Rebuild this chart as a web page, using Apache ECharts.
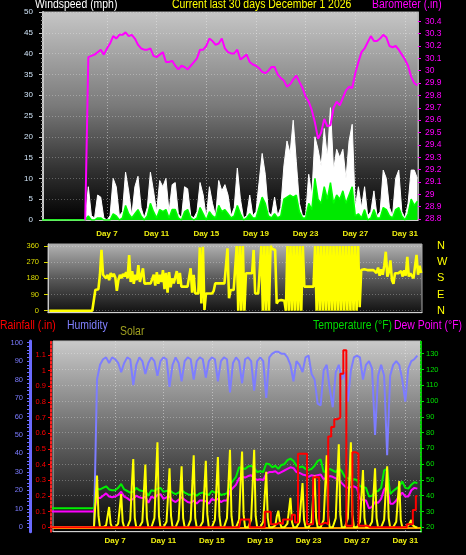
<!DOCTYPE html>
<html>
<head>
<meta charset="utf-8">
<script src="https://cdn.jsdelivr.net/npm/echarts@6/dist/echarts.min.js"></script>
<style>
html,body{margin:0;padding:0;background:#000;overflow:hidden}
#chart{width:466px;height:555px}
</style>
</head>
<body>
<div id="chart"></div>
<script>
// ---------- time axis ----------
var dayTicks = [7, 11, 15, 19, 23, 27, 31];
// quarter-day samples start / step (days)
var Q_START = 1.75, Q_STEP = 0.25;
// eighth-day samples start / step (days)
var E_START = 1.75, E_STEP = 0.125;

// ---------- panel 1: wind (mph), barometer (in) -- quarter-day samples ----------
var windGust = [0,0,0,0,0,0,0,0,0,0,0,0,0,0,0,
  8,1,
  0.5,6,5.5,0.5,
  0,1,10,8,
  1,2,11.5,7,
  1,8,10.5,3,
  0.5,3,11.5,7,
  2,9.5,8,10,
  2,8.5,9,1.5,
  0.5,8,7.5,1,
  0.5,2,9,6,
  0.5,8,4,1,
  9.5,7,8.5,6,
  1,3,12.5,5,
  0.5,1,6,1,
  2,9,16,11,
  2,1,5.5,1,
  3,13,19,16,
  24,14,4,1,
  1,11,6,20,
  17,13,22,15,
  27,12,17,15,
  17,10,19,23,
  3,8,3,8,
  1,2,7,1,
  2,12,10,3,
  1,10,12,2,
  0.5,4,12,12,
  10];
var windAvg = [0,0,0,0,0,0,0,0,0,0,0,0,0,0,0,
  1,0,
  0,0.5,0.5,0,
  0,0,1.5,1,
  0,0.5,3.5,1.5,
  0.5,1.5,2.5,1,
  0,1,4,2,
  0.5,2.5,2,2.5,
  0.5,2.5,2.5,0.5,
  0,2,2.5,0.5,
  0,0.5,3,1.5,
  0,2,1,0.5,
  3.5,2,2.5,1.5,
  0.5,1,3.5,1.5,
  0,0.5,1.5,0.5,
  0.5,3,5.5,4,
  1,0.5,1.5,0.5,
  1,5,5.5,6,
  5.5,6,2,0.5,
  0.5,4,2.5,10,
  5,4,8,5,
  9,4,6,5,
  7,4,6,8,
  1,1.5,0.5,2.5,
  0,0.5,2.5,0.5,
  0.5,3,2.5,1,
  0.5,2.5,3,1,
  0,1.5,5,3.5,
  4.5];
var barometer = [null,null,null,null,null,null,null,null,null,null,null,null,null,null,28.79,
  30.11,30.12,
  30.13,30.15,30.17,30.13,
  30.18,30.22,30.28,30.26,
  30.29,30.29,30.31,30.28,
  30.29,30.26,30.21,30.18,
  30.17,30.17,30.18,30.12,
  30.11,30.13,30.15,30.07,
  30.07,30.08,30.04,30.01,
  30.04,30.03,30.01,30.04,
  30.07,30.10,30.17,30.17,
  30.20,30.26,30.24,30.21,
  30.22,30.26,30.18,30.15,
  30.14,30.14,30.17,30.09,
  30.11,30.13,30.07,30.05,
  30.04,30.02,29.99,29.98,
  30.00,30.03,30.03,29.97,
  29.94,29.92,29.87,29.89,
  29.93,29.96,29.91,29.86,
  29.79,29.75,29.68,29.58,
  29.45,29.50,29.61,29.55,
  29.56,29.70,29.75,29.72,
  29.78,29.84,29.87,29.86,
  29.98,30.07,30.15,30.18,
  30.23,30.28,30.24,30.24,
  30.26,30.29,30.27,30.20,
  30.19,30.20,30.17,30.13,
  30.09,30.04,29.95,29.90,
  29.88];

// ---------- panel 2: wind direction (deg) -- eighth-day samples ----------
var windDir = [0,0,0,0,0,0,0,0,0,0,0,0,0,0,0,0,0,0,0,0,0,0,0,0,0,0,0,0,0,0,
  115,115,120,200,
  338,200,210,180,200,170,210,190,
  205,185,110,170,200,180,205,190,
  215,180,310,160,220,150,200,170,
  254,160,170,236,150,152,152,152,
  152,152,200,140,215,150,200,160,
  226,120,210,100,215,130,180,152,
  152,220,150,210,134,134,134,134,
  134,140,236,100,200,96,96,96,
  352,40,356,4,96,96,96,96,
  96,110,152,152,152,152,152,152,
  152,152,347,69,115,115,115,115,
  360,0,360,0,360,0,208,208,
  208,208,208,338,96,96,96,96,
  360,0,360,0,360,0,360,345,
  338,338,40,55,45,60,50,55,
  0,360,0,360,0,360,0,360,
  0,360,0,360,134,134,134,134,
  134,134,134,360,0,360,0,360,
  0,360,0,360,0,360,0,360,
  0,360,0,360,0,360,0,360,
  0,360,0,360,0,360,0,360,
  20,226,226,230,226,226,222,226,
  230,226,222,210,240,195,230,200,
  250,328,190,215,280,170,150,208,
  208,208,205,220,190,225,195,300,
  190,208,208,180,190,310,200,250,
  210];

// ---------- panel 3 (quarter-day samples) ----------
var humidity = [0,0,0,0,0,0,0,0,0,0,0,0,0,0,0,
  80,88,
  91,92,89,92,
  91,89,84,89,
  92,91,77,88,
  92,90,83,89,
  92,90,82,90,
  92,91,76,88,
  92,89,79,90,
  92,91,80,90,
  92,91,81,90,
  92,91,79,90,
  92,91,73,89,
  92,90,78,91,
  92,90,74,90,
  92,90,70,92,
  94,95,95,94,
  94,92,88,79,
  90,88,84,92,
  93,83,80,67,
  66,85,88,75,
  65,84,88,80,
  84,68,85,92,
  93,92,80,88,
  90,86,50,82,
  88,82,39,82,
  88,90,88,80,
  68,86,90,91,
  93];
var temperature = [32,32,32,32,32,32,32,32,32,32,32,32,32,32,32,
  44.5,44,
  45,46,44,43.5,
  43.5,45,47.5,44,
  43,42,42.5,45,
  43.5,43,43,40,
  43.5,43,44.5,45,
  42.5,43,43.5,42,
  41,42,43.5,42,
  41,40.5,41.5,40,
  41.5,42,41,40.5,
  43,42,42.5,40.5,
  41,41.5,47,49.5,
  52,58,57.5,57,
  58.5,59,57.5,55,
  55.5,55,60.5,60,
  58,59,57,59.5,
  60,62.5,63.5,62,
  59,58,58.5,57,
  56.5,57,59,62,
  63,55,56,57,
  56,55,57.5,55.5,
  52,51,51,50.5,
  50,46,45.5,45,
  39.5,40,42.5,43,
  45,56,57,41,
  43,44.5,46,49,
  45,44.5,47,48.5,
  48];
var dewPoint = [30,30,30,30,30,30,30,30,30,30,30,30,30,30,30,
  39,38.5,
  40,41.5,39.5,39,
  39.5,40.5,42.5,39.5,
  38.5,37,38,40,
  39,38.5,39.5,35.5,
  39.5,38.5,40.5,41,
  38,39,39.5,37,
  36,37.5,39,37.5,
  36,35.5,37,35,
  37,37,36.5,35,
  38,37,38,36,
  37,37,43,45,
  47,51,52,51.5,
  52.5,53,51,50,
  50.5,50,54,55,
  55,55.5,54,55,
  56,57,58,57.5,
  55,54.5,53.5,53,
  52,53,52.5,53,
  53.5,50.5,51.5,52.5,
  52,51,50,48,
  46,45,45.5,46,
  45,38,37.5,37,
  32,33,36,35.5,
  38,44,46,35,
  35,37,40,42,
  39.5,39.5,43.5,45,
  44.5];
var rainfall = [0,0,0,0,0,0,0,0,0,0,0,0,0,0,0,
  0,0,
  0,0,0,0, 0,0,0,0, 0,0,0,0, 0,0,0,0, 0,0,0,0, 0,0,0,0,
  0,0,0,0, 0,0,0,0, 0,0,0,0, 0,0,0,0, 0,0,0,0,
  0,0,0.05,0.05,
  0.05,0,0,0,
  0,0,0.1,0.1,
  0.02,0.02,0.03,0.02,
  0.05,0.05,0.05,0.08,
  0.03,0.47,0.47,0.47,
  0.02,0.02,0.32,0.32,
  0.02,0.03,0.02,0.58,
  0.64,0.69,0.7,0.98,
  1.13,0.01,0.01,0.48,
  0.47,0.01,0.01,0.01,
  0,0,0,0, 0,0,0,0, 0,0,0,0,
  0,0.02,0.02,0.11,
  0.2];
// solar (relative, eighth-day samples)
var solar = [0,0,0,0,0,0,0,0,0,0,0,0,0,0,0,0,0,0,0,0,0,0,0,0,0,0,0,0,0,0,
  28,6,0,0,
  0,0,1,6,11,2,0,0,
  0,0,2,10,18,3,0,0,
  0,0,4,22,37,5,0,0,
  0,0,3,19,34,5,0,0,
  0,0,5,26,46,6,0,0,
  0,0,3,17,32,6,0,0,
  0,0,4,18,33,5,0,0,
  0,0,4,22,39,5,0,0,
  0,0,3,20,36,7,0,0,
  0,0,4,21,38,6,0,0,
  0,0,5,24,42,6,0,0,
  0,0,4,24,41,7,0,0,
  0,0,4,23,42,6,0,0,
  0,0,3,17,30,5,0,0,
  0,0,1,6,9,3,0,0,
  0,0,2,9,16,3,0,0,
  0,0,3,14,24,4,0,0,
  0,0,3,16,28,5,0,0,
  0,0,4,22,39,6,0,0,
  0,0,5,26,45,7,0,0,
  0,0,5,26,46,7,0,0,
  0,0,3,17,31,5,0,0,
  0,0,3,18,32,5,0,0,
  0,0,4,19,33,5,0,0,
  0,0,3,14,25,4,0,0,
  0,0,1,2,4,1,0,0,
  0];

// ---------- tick labels ----------
var baroTicks = [28.8,28.9,29.0,29.1,29.2,29.3,29.4,29.5,29.6,29.7,29.8,29.9,30.0,30.1,30.2,30.3,30.4];
var dirTicks = [0, 90, 180, 270, 360];
var compassLabels = ['N', 'E', 'S', 'W', 'N'];
var humTicks = [0,10,20,30,40,50,60,70,80,90,100];
var humMinorTicks = [0,2,4,6,8,10,12,14,16,18,20,22,24,26,28,30,32,34,36,38,40,42,44,46,48,50,
  52,54,56,58,60,62,64,66,68,70,72,74,76,78,80,82,84,86,88,90,92,94,96,98,100];
var rainTicks = [0,0.1,0.2,0.3,0.4,0.5,0.6,0.7,0.8,0.9,1.0,1.1,1.2];
var tempTicks = [20,30,40,50,60,70,80,90,100,110,120,130];

function toPairs(arr, start, step) {
  return arr.map(function (v, i) { return [start + i * step, v]; });
}
function grad(stops) {
  return { type: 'linear', x: 0, y: 0, x2: 0, y2: 1,
    colorStops: stops.map(function (s) { return { offset: s[0], color: s[1] }; }) };
}
function fmtNum(v) { return String(+(+v).toFixed(2)); }

var FONT = '"Liberation Sans", Arial, sans-serif';
var dotted = { color: 'rgba(255,255,255,0.28)', type: [1, 2], width: 1 };
var dottedV = { color: 'rgba(235,235,235,0.5)', type: [1, 2], width: 1 };

function xAxisCfg(gi, min, max, showLabels, margin) {
  return {
    type: 'value', gridIndex: gi, min: min, max: max,
    axisLine: { show: true, onZero: false, lineStyle: { color: '#d0d0d0', width: 1 } },
    axisTick: { show: false, customValues: dayTicks },
    axisLabel: { show: showLabels, customValues: dayTicks, margin: margin,
      formatter: function (v) { return 'Day ' + v; },
      color: '#eeee10', fontSize: 8, fontWeight: 'bold', fontFamily: FONT },
    splitLine: { show: gi !== 1, lineStyle: dottedV }
  };
}

var chart = echarts.init(document.getElementById('chart'), null, { renderer: 'canvas' });

function titleText(txt, x, y, color) {
  return { type: 'text', x: x, y: y, scaleX: 0.87, silent: true,
    style: { text: txt, x: 0, y: 0, fill: color, font: '12px ' + FONT, textVerticalAlign: 'middle' } };
}

chart.setOption({
  backgroundColor: '#000',
  animation: false,
  textStyle: { fontFamily: FONT },
  grid: [
    { left: 43, top: 12, width: 375, height: 208, show: true, borderWidth: 1, borderColor: '#b0b0b0',
      backgroundColor: grad([[0, '#c6c6c6'], [0.45, '#7a7a7a'], [0.75, '#333333'], [1, '#000000']]) },
    { left: 48, top: 244, width: 374, height: 68.7, show: true, borderWidth: 1, borderColor: '#a8a8a8',
      backgroundColor: grad([[0, '#b4b4b4'], [0.5, '#5a5a5a'], [1, '#101010']]) },
    { left: 53, top: 341, width: 368, height: 190.7, show: true, borderWidth: 1, borderColor: '#b8b8b8',
      backgroundColor: grad([[0, '#cacaca'], [0.5, '#666666'], [1, '#050505']]) }
  ],
  xAxis: [
    xAxisCfg(0, 1.85, 32.05, true, 10),
    xAxisCfg(1, 1.65, 32.07, false, 8),
    xAxisCfg(2, 1.86, 32.3, true, 5)
  ],
  yAxis: [
    { type: 'value', gridIndex: 0, min: 0, max: 50, interval: 5, position: 'left',
      axisLine: { show: true, lineStyle: { color: '#c8c8c8', width: 2 } },
      axisTick: { show: true, length: 4, lineStyle: { color: '#c0c0c0' } },
      minorTick: { show: true, splitNumber: 5, length: 2, lineStyle: { color: '#9a9a9a' } },
      axisLabel: { color: '#d0e4f8', fontSize: 8, margin: 10 },
      splitLine: { show: true, lineStyle: dotted } },
    { type: 'value', gridIndex: 0, min: 28.792, max: 30.475, position: 'right',
      axisLine: { show: true, lineStyle: { color: '#b0b0b0', width: 1 } },
      axisTick: { show: true, customValues: baroTicks, length: 3, lineStyle: { color: '#ff00ff' } },
      axisLabel: { customValues: baroTicks, color: '#ff00ff', fontSize: 8.5, margin: 7, formatter: fmtNum },
      splitLine: { show: false } },
    { type: 'value', gridIndex: 1, min: -11, max: 371, position: 'left',
      axisLine: { show: true, lineStyle: { color: '#c8c8c8', width: 1 } },
      axisTick: { show: true, customValues: dirTicks, length: 4, lineStyle: { color: '#d8d800' } },
      axisLabel: { customValues: dirTicks, color: '#dede00', fontSize: 7.5, margin: 9 },
      splitLine: { show: true, lineStyle: dotted } },
    { type: 'value', gridIndex: 1, min: -11, max: 371, position: 'right',
      axisLine: { show: false },
      axisTick: { show: false, customValues: dirTicks },
      axisLabel: { customValues: dirTicks, color: '#ffff00', fontSize: 11, margin: 15,
        formatter: function (v) { return compassLabels[dirTicks.indexOf(v)]; } },
      splitLine: { show: false } },
    { type: 'value', gridIndex: 2, min: -2.38, max: 100.87, position: 'left', offset: 23,
      axisLine: { show: true, lineStyle: { color: '#6a6aff', width: 3 } },
      axisTick: { show: true, customValues: humMinorTicks, length: 3, lineStyle: { color: '#6a6aff' } },
      axisLabel: { customValues: humTicks, color: '#7b7bff', fontSize: 7.5, margin: 7 },
      splitLine: { show: false } },
    { type: 'value', gridIndex: 2, min: -0.028, max: 1.1897, position: 'left', offset: 2,
      axisLine: { show: true, lineStyle: { color: '#ff2020', width: 2, type: [2, 2] } },
      axisTick: { show: true, customValues: rainTicks, length: 3, lineStyle: { color: '#ff0000' } },
      axisLabel: { customValues: rainTicks, color: '#ff0000', fontSize: 7.5, margin: 5, formatter: fmtNum },
      splitLine: { show: false } },
    { type: 'value', gridIndex: 2, min: 17.21, max: 138.06, position: 'right',
      axisLine: { show: true, lineStyle: { color: '#00d000', width: 2, type: [2, 2] } },
      axisTick: { show: true, customValues: tempTicks, length: 3, lineStyle: { color: '#00e000' } },
      axisLabel: { customValues: tempTicks, color: '#00e000', fontSize: 7.5, margin: 5 },
      splitLine: { show: true, lineStyle: dotted } },
    { type: 'value', gridIndex: 2, min: -2.38, max: 100.87, show: false }
  ],
  graphic: [
    titleText('Windspeed (mph)', 35, 4.5, '#ffffff'),
    titleText('Current last 30 days December 1 2026', 172, 4.5, '#ffff00'),
    titleText('Barometer (.in)', 372, 4.5, '#ff00ff'),
    titleText('Rainfall (.in)', 0, 326, '#ff0000'),
    titleText('Humidity', 67, 326, '#8080ff'),
    titleText('Solar', 120, 332, '#a0a020'),
    titleText('Temperature (\u00b0F)', 313, 326, '#00dd00'),
    titleText('Dew Point (\u00b0F)', 394, 326, '#ff00ff')
  ],
  series: [
    { type: 'line', name: 'Wind gust', xAxisIndex: 0, yAxisIndex: 0, z: 2,
      data: toPairs(windGust, Q_START, Q_STEP), showSymbol: false,
      lineStyle: { color: '#ffffff', width: 1 }, areaStyle: { color: '#ffffff', opacity: 1 } },
    { type: 'line', name: 'Wind avg', xAxisIndex: 0, yAxisIndex: 0, z: 3,
      data: toPairs(windAvg, Q_START, Q_STEP), showSymbol: false,
      lineStyle: { color: '#00ff00', width: 1.5 }, areaStyle: { color: '#00e800', opacity: 1 } },
    { type: 'line', name: 'Barometer', xAxisIndex: 0, yAxisIndex: 1, z: 4,
      data: toPairs(barometer, Q_START, Q_STEP), showSymbol: false, connectNulls: false,
      lineStyle: { color: '#ff00ff', width: 2 } },
    { type: 'line', name: 'Wind direction', xAxisIndex: 1, yAxisIndex: 2, z: 3,
      data: toPairs(windDir, E_START, E_STEP), showSymbol: false,
      lineStyle: { color: '#ffff00', width: 2.6, join: 'bevel' } },
    { type: 'line', name: 'Humidity', xAxisIndex: 2, yAxisIndex: 4, z: 2,
      data: toPairs(humidity, Q_START, Q_STEP), showSymbol: false,
      lineStyle: { color: '#7d7dff', width: 2 } },
    { type: 'line', name: 'Temperature', xAxisIndex: 2, yAxisIndex: 6, z: 3,
      data: toPairs(temperature, Q_START, Q_STEP), showSymbol: false,
      lineStyle: { color: '#00f000', width: 2 } },
    { type: 'line', name: 'Dew Point', xAxisIndex: 2, yAxisIndex: 6, z: 4,
      data: toPairs(dewPoint, Q_START, Q_STEP), showSymbol: false,
      lineStyle: { color: '#ff00ff', width: 2 } },
    { type: 'line', name: 'Solar', xAxisIndex: 2, yAxisIndex: 7, z: 5,
      data: toPairs(solar, E_START, E_STEP), showSymbol: false,
      lineStyle: { color: '#ffff00', width: 2 } },
    { type: 'line', name: 'Rainfall', xAxisIndex: 2, yAxisIndex: 5, z: 6, step: 'middle',
      data: toPairs(rainfall, Q_START, Q_STEP), showSymbol: false,
      lineStyle: { color: '#ff0000', width: 2 },
      markLine: { silent: true, symbol: ['none', 'none'], label: { show: false }, animation: false,
        lineStyle: { color: '#ff9900', width: 2, type: 'solid' }, data: [{ yAxis: 0 }] } }
  ]
});
</script>
</body>
</html>
